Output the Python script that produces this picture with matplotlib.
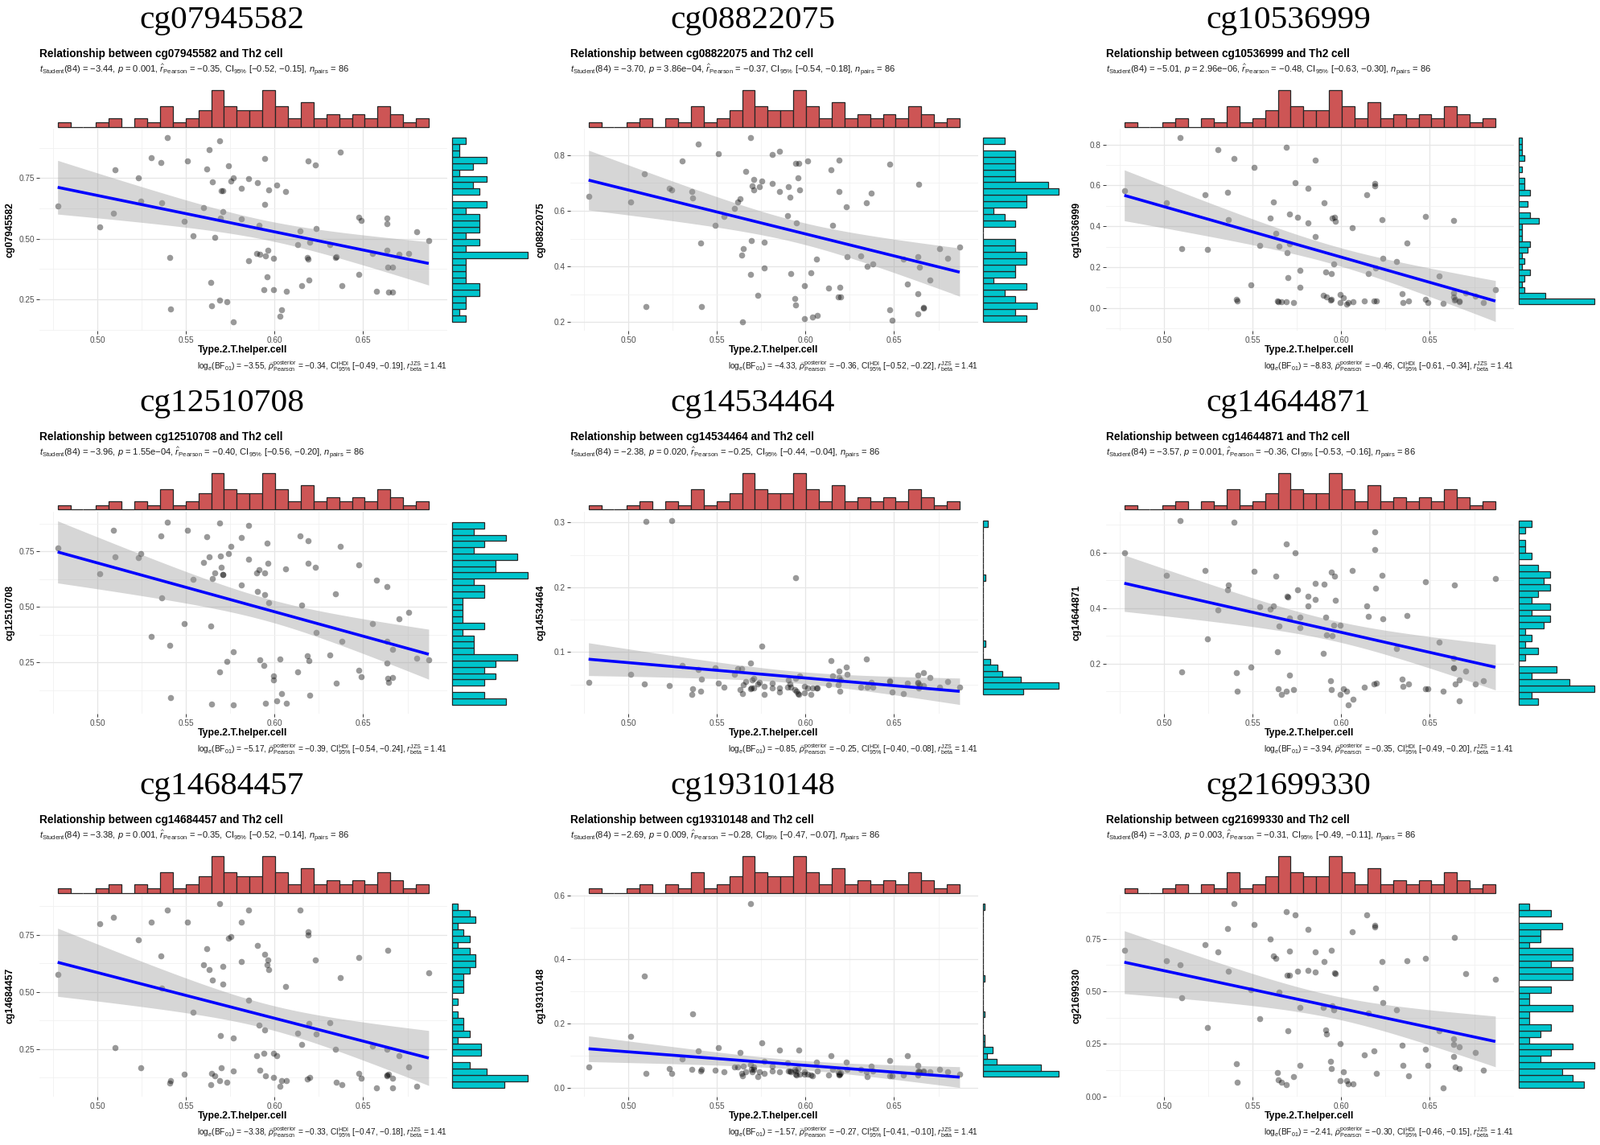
import numpy as np
import matplotlib
matplotlib.use("Agg")
import matplotlib.pyplot as plt

plt.rcParams['font.family'] = ['Liberation Sans', 'DejaVu Sans']
plt.rcParams['mathtext.fontset'] = 'custom'
plt.rcParams['mathtext.rm'] = 'Liberation Sans'
plt.rcParams['mathtext.it'] = 'Liberation Sans:italic'
plt.rcParams['mathtext.bf'] = 'Liberation Sans:bold'
plt.rcParams['mathtext.sf'] = 'Liberation Sans'

# ---------------- data ----------------
th2 = [0.4776, 0.5013, 0.5090, 0.5101, 0.5233, 0.5243, 0.5302, 0.5358, 0.5361, 0.5396,
       0.5407, 0.5415, 0.5488, 0.5507, 0.5539, 0.5599, 0.5618, 0.5633, 0.5639, 0.5646,
       0.5650, 0.5664, 0.5690, 0.5691, 0.5694, 0.5700, 0.5706, 0.5708, 0.5731, 0.5739,
       0.5752, 0.5765, 0.5769, 0.5811, 0.5812, 0.5853, 0.5855, 0.5899, 0.5903, 0.5911,
       0.5917, 0.5940, 0.5943, 0.5945, 0.5947, 0.5959, 0.5962, 0.5966, 0.5993, 0.5994,
       0.6014, 0.6029, 0.6041, 0.6064, 0.6069, 0.6132, 0.6142, 0.6152, 0.6186, 0.6190,
       0.6191, 0.6195, 0.6197, 0.6232, 0.6236, 0.6310, 0.6343, 0.6348, 0.6370, 0.6381,
       0.6476, 0.6477, 0.6490, 0.6553, 0.6575, 0.6634, 0.6635, 0.6636, 0.6637, 0.6642,
       0.6665, 0.6667, 0.6703, 0.6757, 0.6801, 0.6870]

y_cg07945582 = [0.634, 0.548, 0.606, 0.785, 0.753, 0.654, 0.835, 0.816, 0.648, 0.916,
                0.424, 0.212, 0.571, 0.822, 0.514, 0.629, 0.788, 0.868, 0.320, 0.223,
                0.735, 0.505, 0.905, 0.248, 0.585, 0.699, 0.697, 0.612, 0.241, 0.802,
                0.738, 0.752, 0.159, 0.708, 0.583, 0.411, 0.748, 0.438, 0.731, 0.555,
                0.435, 0.290, 0.832, 0.643, 0.429, 0.345, 0.453, 0.701, 0.292, 0.421,
                0.720, 0.182, 0.206, 0.696, 0.285, 0.475, 0.534, 0.307, 0.422, 0.418,
                0.821, 0.331, 0.487, 0.803, 0.544, 0.475, 0.422, 0.427, 0.858, 0.307,
                0.589, 0.353, 0.576, 0.438, 0.284, 0.453, 0.584, 0.562, 0.383, 0.281,
                0.383, 0.281, 0.435, 0.440, 0.530, 0.493]

y_cg08822075 = [0.651, 0.631, 0.734, 0.255, 0.680, 0.676, 0.778, 0.668, 0.645, 0.840,
                0.483, 0.255, 0.548, 0.804, 0.579, 0.608, 0.631, 0.642, 0.442, 0.202,
                0.464, 0.743, 0.371, 0.862, 0.493, 0.691, 0.675, 0.713, 0.295, 0.688,
                0.707, 0.396, 0.486, 0.802, 0.699, 0.815, 0.670, 0.583, 0.687, 0.648,
                0.374, 0.285, 0.770, 0.261, 0.558, 0.719, 0.770, 0.674, 0.332, 0.212,
                0.778, 0.376, 0.219, 0.427, 0.225, 0.323, 0.748, 0.549, 0.291, 0.782,
                0.669, 0.324, 0.291, 0.615, 0.436, 0.437, 0.629, 0.399, 0.664, 0.410,
                0.769, 0.245, 0.206, 0.425, 0.338, 0.435, 0.229, 0.301, 0.694, 0.398,
                0.253, 0.251, 0.352, 0.464, 0.428, 0.470]

y_cg10536999 = [0.574, 0.515, 0.833, 0.292, 0.556, 0.285, 0.774, 0.565, 0.431, 0.733,
                0.042, 0.035, 0.114, 0.687, 0.307, 0.439, 0.518, 0.366, 0.035, 0.030,
                0.302, 0.029, 0.031, 0.787, 0.271, 0.148, 0.460, 0.315, 0.024, 0.614,
                0.445, 0.185, 0.100, 0.585, 0.416, 0.349, 0.725, 0.060, 0.517, 0.174,
                0.052, 0.037, 0.040, 0.169, 0.439, 0.215, 0.443, 0.425, 0.064, 0.024,
                0.049, 0.018, 0.026, 0.391, 0.031, 0.033, 0.553, 0.169, 0.035, 0.610,
                0.598, 0.197, 0.034, 0.433, 0.243, 0.229, 0.068, 0.026, 0.317, 0.035,
                0.449, 0.042, 0.027, 0.155, 0.022, 0.072, 0.055, 0.427, 0.037, 0.042,
                0.029, 0.035, 0.072, 0.058, 0.024, 0.090]

y_cg12510708 = [0.764, 0.648, 0.844, 0.726, 0.721, 0.740, 0.368, 0.821, 0.542, 0.881,
                0.328, 0.091, 0.425, 0.845, 0.624, 0.700, 0.816, 0.726, 0.415, 0.061,
                0.629, 0.651, 0.876, 0.207, 0.728, 0.679, 0.647, 0.645, 0.254, 0.738,
                0.772, 0.296, 0.060, 0.812, 0.597, 0.865, 0.714, 0.654, 0.571, 0.666,
                0.262, 0.237, 0.653, 0.556, 0.064, 0.786, 0.697, 0.517, 0.189, 0.171,
                0.076, 0.266, 0.111, 0.669, 0.064, 0.208, 0.820, 0.508, 0.281, 0.797,
                0.696, 0.256, 0.102, 0.677, 0.386, 0.284, 0.559, 0.155, 0.773, 0.343,
                0.689, 0.214, 0.186, 0.423, 0.621, 0.345, 0.248, 0.590, 0.177, 0.161,
                0.180, 0.308, 0.446, 0.475, 0.269, 0.263]

y_cg14534464 = [0.0537, 0.0657, 0.0512, 0.302, 0.0483, 0.3025, 0.0798, 0.0343, 0.043, 0.073,
                0.0393, 0.0583, 0.0752, 0.052, 0.0455, 0.066, 0.074, 0.042, 0.074, 0.036,
                0.050, 0.0545, 0.043, 0.0835, 0.045, 0.0574, 0.0595, 0.044, 0.0512, 0.053,
                0.109, 0.035, 0.047, 0.0525, 0.044, 0.038, 0.044, 0.046, 0.057, 0.051,
                0.046, 0.042, 0.0595, 0.215, 0.040, 0.036, 0.034, 0.0636, 0.0475, 0.0372,
                0.044, 0.034, 0.044, 0.044, 0.044, 0.050, 0.0864, 0.0636, 0.049, 0.0607,
                0.071, 0.0393, 0.0566, 0.0773, 0.066, 0.046, 0.0893, 0.046, 0.0533, 0.046,
                0.0558, 0.0545, 0.038, 0.036, 0.0525, 0.0649, 0.0533, 0.0517, 0.044, 0.050,
                0.0682, 0.048, 0.061, 0.046, 0.0545, 0.046]

y_cg14644871 = [0.598, 0.518, 0.714, 0.171, 0.535, 0.288, 0.394, 0.465, 0.482, 0.709,
                0.168, 0.100, 0.187, 0.533, 0.405, 0.396, 0.408, 0.516, 0.242, 0.109,
                0.336, 0.090, 0.100, 0.631, 0.443, 0.441, 0.160, 0.364, 0.107, 0.600,
                0.467, 0.331, 0.367, 0.443, 0.408, 0.489, 0.430, 0.237, 0.487, 0.367,
                0.304, 0.140, 0.531, 0.107, 0.301, 0.338, 0.515, 0.428, 0.090, 0.338,
                0.111, 0.102, 0.053, 0.536, 0.073, 0.116, 0.408, 0.371, 0.128, 0.674,
                0.612, 0.472, 0.129, 0.518, 0.361, 0.256, 0.145, 0.118, 0.373, 0.127,
                0.494, 0.109, 0.109, 0.278, 0.101, 0.220, 0.186, 0.184, 0.483, 0.128,
                0.142, 0.065, 0.173, 0.126, 0.138, 0.507]

y_cg14684457 = [0.576, 0.797, 0.825, 0.258, 0.729, 0.169, 0.806, 0.657, 0.516, 0.856,
                0.102, 0.111, 0.140, 0.806, 0.410, 0.619, 0.689, 0.597, 0.093, 0.145,
                0.550, 0.134, 0.113, 0.884, 0.310, 0.167, 0.610, 0.534, 0.104, 0.736,
                0.741, 0.298, 0.155, 0.806, 0.632, 0.856, 0.463, 0.221, 0.703, 0.354,
                0.159, 0.230, 0.664, 0.334, 0.134, 0.618, 0.638, 0.597, 0.230, 0.127,
                0.221, 0.086, 0.113, 0.522, 0.113, 0.320, 0.856, 0.271, 0.118, 0.761,
                0.747, 0.361, 0.125, 0.640, 0.315, 0.366, 0.250, 0.105, 0.561, 0.096,
                0.651, 0.145, 0.123, 0.264, 0.082, 0.251, 0.134, 0.136, 0.680, 0.140,
                0.123, 0.082, 0.222, 0.172, 0.086, 0.582]

y_cg19310148 = [0.065, 0.160, 0.348, 0.044, 0.061, 0.044, 0.089, 0.057, 0.231, 0.115,
                0.053, 0.057, 0.055, 0.124, 0.049, 0.064, 0.065, 0.109, 0.044, 0.038,
                0.067, 0.049, 0.573, 0.073, 0.057, 0.050, 0.064, 0.057, 0.035, 0.050,
                0.140, 0.082, 0.044, 0.067, 0.053, 0.118, 0.049, 0.078, 0.053, 0.053,
                0.050, 0.057, 0.042, 0.053, 0.039, 0.061, 0.117, 0.042, 0.042, 0.050,
                0.042, 0.040, 0.036, 0.079, 0.053, 0.040, 0.099, 0.057, 0.049, 0.042,
                0.040, 0.042, 0.047, 0.079, 0.057, 0.057, 0.049, 0.034, 0.068, 0.053,
                0.084, 0.036, 0.036, 0.040, 0.099, 0.069, 0.050, 0.040, 0.053, 0.049,
                0.053, 0.049, 0.050, 0.057, 0.050, 0.043]

y_cg21699330 = [0.694, 0.647, 0.628, 0.468, 0.721, 0.329, 0.689, 0.797, 0.595, 0.915,
                0.156, 0.070, 0.506, 0.817, 0.369, 0.750, 0.667, 0.658, 0.113, 0.080,
                0.497, 0.070, 0.055, 0.877, 0.578, 0.314, 0.576, 0.690, 0.094, 0.864,
                0.595, 0.425, 0.149, 0.793, 0.600, 0.686, 0.591, 0.423, 0.643, 0.318,
                0.299, 0.166, 0.134, 0.694, 0.433, 0.411, 0.589, 0.584, 0.250, 0.075,
                0.116, 0.074, 0.059, 0.782, 0.060, 0.197, 0.863, 0.398, 0.216, 0.806,
                0.814, 0.515, 0.109, 0.643, 0.446, 0.413, 0.244, 0.150, 0.647, 0.099,
                0.658, 0.224, 0.150, 0.311, 0.043, 0.276, 0.247, 0.189, 0.756, 0.141,
                0.236, 0.135, 0.584, 0.210, 0.125, 0.558]

probes = ['cg07945582', 'cg08822075', 'cg10536999', 'cg12510708', 'cg14534464',
          'cg14644871', 'cg14684457', 'cg19310148', 'cg21699330']
y_series = [y_cg07945582, y_cg08822075, y_cg10536999, y_cg12510708, y_cg14534464,
            y_cg14644871, y_cg14684457, y_cg19310148, y_cg21699330]

t_student = ['−3.44', '−3.70', '−5.01', '−3.96', '−2.38', '−3.57', '−3.38', '−2.69', '−3.03']
p_value = ['0.001', '3.86e−04', '2.96e−06', '1.55e−04', '0.020', '0.001', '0.001', '0.009', '0.003']
r_pearson = ['−0.35', '−0.37', '−0.48', '−0.40', '−0.25', '−0.36', '−0.35', '−0.28', '−0.31']
ci_freq = ['[−0.52, −0.15]', '[−0.54, −0.18]', '[−0.63, −0.30]', '[−0.56, −0.20]', '[−0.44, −0.04]',
           '[−0.53, −0.16]', '[−0.52, −0.14]', '[−0.47, −0.07]', '[−0.49, −0.11]']
log_bf = ['−3.55', '−4.33', '−8.83', '−5.17', '−0.85', '−3.94', '−3.38', '−1.57', '−2.41']
rho_post = ['−0.34', '−0.36', '−0.46', '−0.39', '−0.25', '−0.35', '−0.33', '−0.27', '−0.30']
ci_hdi = ['[−0.49, −0.19]', '[−0.52, −0.22]', '[−0.61, −0.34]', '[−0.54, −0.24]', '[−0.40, −0.08]',
          '[−0.49, −0.20]', '[−0.47, −0.18]', '[−0.41, −0.10]', '[−0.46, −0.15]']
r_beta = '1.41'
n_pairs = 86
df_t = 84

x_ticks = [0.50, 0.55, 0.60, 0.65]
x_ticklabels = ['0.50', '0.55', '0.60', '0.65']
y_ticks = [[0.25, 0.50, 0.75], [0.2, 0.4, 0.6, 0.8], [0.0, 0.2, 0.4, 0.6, 0.8],
           [0.25, 0.50, 0.75], [0.1, 0.2, 0.3], [0.2, 0.4, 0.6],
           [0.25, 0.50, 0.75], [0.0, 0.2, 0.4, 0.6], [0.00, 0.25, 0.50, 0.75]]
y_ticklabels = [['0.25', '0.50', '0.75'], ['0.2', '0.4', '0.6', '0.8'],
                ['0.0', '0.2', '0.4', '0.6', '0.8'], ['0.25', '0.50', '0.75'],
                ['0.1', '0.2', '0.3'], ['0.2', '0.4', '0.6'], ['0.25', '0.50', '0.75'],
                ['0.0', '0.2', '0.4', '0.6'], ['0.00', '0.25', '0.50', '0.75']]
x_name = 'Type.2.T.helper.cell'

# ---------------- layout ----------------
W, H = 1990, 1423
fig = plt.figure(figsize=(W / 100, H / 100), dpi=100)
col_off = [0, 660, 1326]
row_off = [0, 476, 952]

def rect(ox, oy, l, t, r, b):
    return [(ox + l) / W, 1 - (oy + b) / H, (r - l) / W, (b - t) / H]

def fpt(ox, oy, px, py):
    return (ox + px) / W, 1 - (oy + py) / H

RED = '#CD5555'
CYAN = '#00C5CD'
EDGE = '#262626'
TCRIT = 1.98861

x = np.array(th2)
n = len(x)
xlo, xhi = x.min(), x.max()
xpad = 0.05 * (xhi - xlo)
xbins = np.linspace(xlo, xhi, 30)

for k in range(9):
    ox = col_off[k % 3]
    oy = row_off[k // 3]
    y = np.array(y_series[k])

    # regression + CI
    b, a = np.polyfit(x, y, 1)
    xg = np.linspace(xlo, xhi, 80)
    yg = a + b * xg
    resid = y - (a + b * x)
    s = np.sqrt(np.sum(resid ** 2) / (n - 2))
    sxx = np.sum((x - x.mean()) ** 2)
    se = s * np.sqrt(1.0 / n + (xg - x.mean()) ** 2 / sxx)
    lo_band = yg - TCRIT * se
    hi_band = yg + TCRIT * se
    ylo = min(y.min(), lo_band.min())
    yhi = max(y.max(), hi_band.max())
    ypad = 0.05 * (yhi - ylo)

    ax = fig.add_axes(rect(ox, oy, 48.6, 160, 556, 411))
    for sp in ax.spines.values():
        sp.set_visible(False)
    ax.set_xticks(x_ticks)
    ax.set_xticklabels(x_ticklabels)
    ax.set_yticks(y_ticks[k])
    ax.set_yticklabels(y_ticklabels[k])
    xt = np.array(x_ticks)
    step = xt[1] - xt[0]
    ax.set_xticks(np.arange(xt[0] - step / 2, xt[-1] + step, step), minor=True)
    yt = np.array(y_ticks[k])
    ystep = yt[1] - yt[0]
    ax.set_yticks(np.arange(yt[0] - 1.5 * ystep, yt[-1] + 2 * ystep, ystep / 2), minor=True)
    ax.grid(True, which='major', color='#E6E6E6', linewidth=0.9)
    ax.grid(True, which='minor', color='#F1F1F1', linewidth=0.6)
    ax.set_axisbelow(True)
    ax.tick_params(which='major', length=2.6, width=0.7, color='#333333',
                   labelsize=7.2, labelcolor='#4D4D4D', pad=1.5)
    ax.tick_params(axis='x', which='major', pad=2.2)
    ax.tick_params(which='minor', length=0)

    ax.scatter(x, y, s=30, color='black', alpha=0.4, linewidths=0, zorder=2)
    ax.fill_between(xg, lo_band, hi_band, color='#999999', alpha=0.4, linewidth=0, zorder=3)
    ax.plot(xg, yg, color='#0000FF', linewidth=2.6, zorder=4, solid_capstyle='butt')

    # top marginal histogram
    axt = fig.add_axes(rect(ox, oy, 48.6, 107, 556, 157.5), sharex=ax)
    cnt, edges = np.histogram(x, bins=xbins)
    axt.bar(edges[:-1], cnt, width=np.diff(edges), align='edge', color=RED,
            edgecolor=EDGE, linewidth=0.9, clip_on=False)
    axt.set_ylim(0, cnt.max() * 1.12)
    axt.axis('off')

    # right marginal histogram
    axr = fig.add_axes(rect(ox, oy, 562, 160, 657, 411), sharey=ax)
    ybins = np.linspace(y.min(), y.max(), 30)
    cy, ey = np.histogram(y, bins=ybins)
    axr.barh(ey[:-1], cy, height=np.diff(ey), align='edge', color=CYAN,
             edgecolor=EDGE, linewidth=0.9, clip_on=False)
    axr.set_xlim(0, cy.max() * 1.01)
    axr.axis('off')

    ax.set_xlim(xlo - xpad, xhi + xpad)
    ax.set_ylim(ylo - ypad, yhi + ypad)

    # texts
    fig.text(*fpt(ox, oy, 276, 35), probes[k], fontsize=29.8, ha='center', va='baseline',
             family=['Liberation Serif', 'DejaVu Serif'])
    fig.text(*fpt(ox, oy, 48.6, 67), 'Relationship between %s and Th2 cell' % probes[k],
             fontsize=9.8, fontweight='bold', ha='left', va='center')
    stats = (r'$t_{\mathrm{Student}}$(%d) = %s, $p$ = %s, $\widehat{r}_{\mathrm{Pearson}}$ = %s, '
             r'CI$_{95\%%}$ %s, $n_{\mathrm{pairs}}$ = %d'
             % (df_t, t_student[k], p_value[k], r_pearson[k], ci_freq[k], n_pairs))
    fig.text(*fpt(ox, oy, 48.6, 87), stats, fontsize=8.0, ha='left', va='center', color='#1a1a1a')
    fig.text(*fpt(ox, oy, 302, 435), x_name, fontsize=8.8, fontweight='bold',
             ha='center', va='center')
    fig.text(*fpt(ox, oy, 12.7, 285.5), probes[k], fontsize=8.8, fontweight='bold',
             ha='center', va='center', rotation=90)
    cap = (r'log$_{e}$(BF$_{01}$) = %s, $\widehat{\rho}_{\mathrm{Pearson}}^{\mathrm{posterior}}$ = %s, '
           r'CI$_{95\%%}^{\mathrm{HDI}}$ %s, $r_{\mathrm{beta}}^{\mathrm{JZS}}$ = %s'
           % (log_bf[k], rho_post[k], ci_hdi[k], r_beta))
    fig.text(*fpt(ox, oy, 556, 455), cap, fontsize=7.3, ha='right', va='center', color='#1a1a1a')

fig.savefig('out.png', dpi=100, facecolor='white')
